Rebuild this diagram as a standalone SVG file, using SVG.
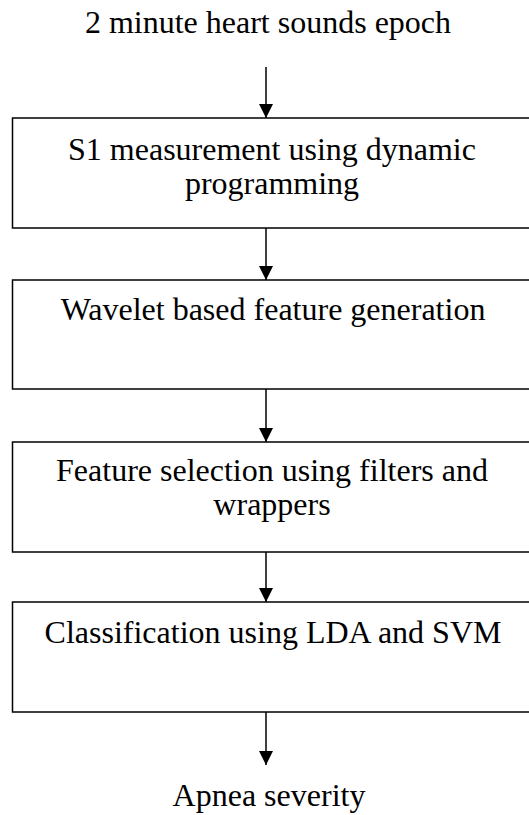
<svg xmlns="http://www.w3.org/2000/svg" width="529" height="815" viewBox="0 0 529 815">
<style>
.box{fill:#fff;stroke:#000;stroke-width:1.5}
.c{stroke:#000;stroke-width:1.5;fill:none}
</style>
<defs>
<marker id="ah" markerUnits="userSpaceOnUse" markerWidth="14" markerHeight="15" refX="14" refY="7" orient="auto">
<path d="M0,0 L14,7 L0,14 Z" fill="#000"/>
</marker>
</defs>
<rect width="529" height="815" fill="#fff"/>
<g font-family="Liberation Serif, Times New Roman, DejaVu Serif, serif" font-size="32" fill="#000" text-anchor="middle">
<g id="input"><text x="268" y="33">2 minute heart sounds epoch</text></g>
<g id="s1"><rect class="box" x="12.5" y="118" width="530" height="110"/>
<text x="272" y="160">S1 measurement using dynamic</text>
<text x="272" y="194">programming</text></g>
<g id="wavelet"><rect class="box" x="12.5" y="280" width="530" height="109"/>
<text x="273" y="320">Wavelet based feature generation</text></g>
<g id="selection"><rect class="box" x="12.5" y="442" width="530" height="110"/>
<text x="272" y="481">Feature selection using filters and</text>
<text x="272" y="515">wrappers</text></g>
<g id="classification"><rect class="box" x="12.5" y="602" width="530" height="110"/>
<text x="273" y="643">Classification using LDA and SVM</text></g>
<g id="output"><text x="269" y="806">Apnea severity</text></g>
</g>
<g id="connectors">
<line class="c" x1="266" y1="67" x2="266" y2="118" marker-end="url(#ah)"/>
<line class="c" x1="266" y1="228" x2="266" y2="280" marker-end="url(#ah)"/>
<line class="c" x1="266" y1="389" x2="266" y2="442" marker-end="url(#ah)"/>
<line class="c" x1="266" y1="552" x2="266" y2="602" marker-end="url(#ah)"/>
<line class="c" x1="266" y1="712" x2="266" y2="765" marker-end="url(#ah)"/>
</g>
</svg>
